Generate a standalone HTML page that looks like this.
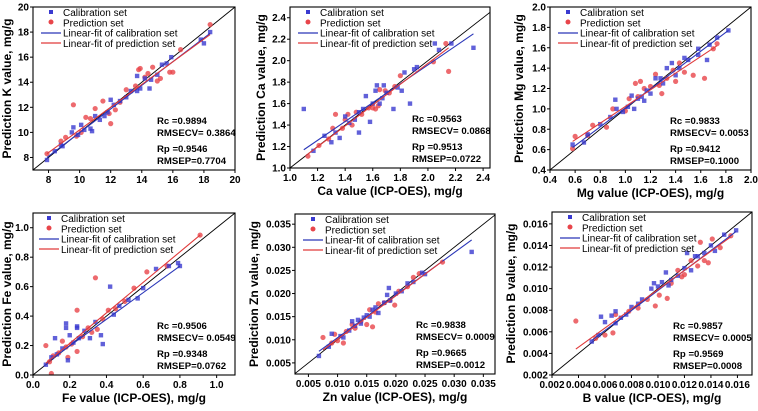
<!DOCTYPE html>
<html><head><meta charset="utf-8"><style>
body{margin:0;background:#fff;}
svg{display:block;font-family:"Liberation Sans",sans-serif;}
</style></head><body>
<svg id="fig" width="758" height="411" viewBox="0 0 758 411"></svg>
<script>
const kCal=[[7.9,7.8],[8.4,8.5],[8.8,9.0],[8.9,8.9],[9.5,10.0],[9.6,10.4],[9.9,9.8],[10.1,10.6],[10.3,10.2],[10.7,10.3],[10.8,10.1],[11.0,11.3],[11.3,11.0],[11.6,11.3],[11.8,11.6],[12.0,12.6],[12.2,12.2],[12.6,12.5],[13.0,12.8],[13.3,13.3],[13.7,13.3],[13.7,14.5],[13.9,13.5],[14.2,14.3],[14.5,13.5],[14.6,14.2],[15.0,14.6],[15.3,15.4],[15.6,15.5],[15.9,16.0],[17.8,17.4],[18.0,17.1],[18.4,18.0]];
const kPred=[[7.9,8.3],[8.8,9.3],[9.1,9.6],[9.6,12.2],[9.8,9.7],[10.1,10.0],[10.4,11.2],[10.7,11.1],[11.0,11.9],[11.5,12.5],[11.9,11.5],[12.0,10.7],[12.3,11.8],[12.6,12.4],[13.0,13.4],[13.6,13.7],[13.8,15.0],[13.9,15.1],[14.2,14.4],[14.4,14.7],[14.7,15.2],[15.0,14.1],[15.2,14.3],[15.8,14.8],[16.0,14.8],[16.5,16.6],[18.4,18.6]];
const kFit=[[[7.9,8.0],[18.4,17.9]],[[7.9,8.3],[18.4,17.8]]];
const kTicks=[8,10,12,14,16,18,20];
const caCal=[[1.10,1.55],[1.17,1.16],[1.25,1.30],[1.30,1.24],[1.33,1.33],[1.36,1.28],[1.40,1.48],[1.43,1.42],[1.47,1.45],[1.50,1.33],[1.50,1.52],[1.53,1.55],[1.55,1.67],[1.58,1.43],[1.60,1.60],[1.62,1.72],[1.63,1.77],[1.65,1.60],[1.67,1.65],[1.68,1.77],[1.70,1.70],[1.75,1.55],[1.78,1.75],[1.81,1.72],[1.83,1.89],[1.87,1.60],[1.90,1.92],[1.92,1.94],[2.05,2.16],[2.08,2.10],[2.17,2.16],[2.33,2.12]];
const caPred=[[1.13,1.11],[1.21,1.21],[1.28,1.27],[1.31,1.37],[1.33,1.50],[1.38,1.37],[1.40,1.45],[1.42,1.50],[1.45,1.40],[1.48,1.52],[1.52,1.50],[1.57,1.56],[1.60,1.56],[1.62,1.55],[1.64,1.58],[1.65,1.73],[1.69,1.72],[1.72,1.70],[1.76,1.76],[1.80,1.86],[2.04,1.99],[2.13,2.16],[2.15,1.90]];
const caFit=[[[1.10,1.17],[2.33,2.25]],[[1.13,1.13],[2.15,2.12]]];
const caTicks=[1.0,1.2,1.4,1.6,1.8,2.0,2.2,2.4];
const mgCal=[[0.58,0.65],[0.67,0.67],[0.70,0.75],[0.80,0.85],[0.88,0.92],[0.92,1.09],[0.93,1.00],[0.98,0.97],[1.02,1.02],[1.05,1.13],[1.07,1.00],[1.10,1.10],[1.13,1.12],[1.15,1.08],[1.17,1.18],[1.20,1.15],[1.24,1.30],[1.28,1.30],[1.30,1.25],[1.33,1.40],[1.37,1.45],[1.40,1.33],[1.43,1.40],[1.47,1.50],[1.50,1.48],[1.58,1.59],[1.58,1.53],[1.65,1.48],[1.67,1.63],[1.73,1.70],[1.82,1.77]];
const mgPred=[[0.58,0.61],[0.60,0.73],[0.70,0.74],[0.74,0.84],[0.85,0.82],[0.90,1.00],[1.00,0.98],[1.03,1.10],[1.08,1.25],[1.10,1.12],[1.12,1.27],[1.15,1.20],[1.20,1.22],[1.24,1.34],[1.27,1.23],[1.29,1.15],[1.33,1.30],[1.38,1.38],[1.40,1.27],[1.43,1.45],[1.47,1.36],[1.54,1.33],[1.63,1.30],[1.70,1.59],[1.73,1.64]];
const mgFit=[[[0.58,0.62],[1.82,1.77]],[[0.58,0.68],[1.73,1.62]]];
const mgTicks=[0.4,0.6,0.8,1.0,1.2,1.4,1.6,1.8,2.0];
const feCal=[[0.07,0.07],[0.10,0.12],[0.12,0.25],[0.13,0.14],[0.16,0.18],[0.18,0.35],[0.18,0.32],[0.19,0.10],[0.20,0.27],[0.22,0.22],[0.24,0.33],[0.24,0.32],[0.25,0.25],[0.28,0.30],[0.31,0.25],[0.34,0.36],[0.37,0.27],[0.38,0.21],[0.42,0.60],[0.44,0.41],[0.47,0.47],[0.52,0.51],[0.57,0.52],[0.60,0.59],[0.67,0.72],[0.74,0.74],[0.79,0.76],[0.80,0.74]];
const fePred=[[0.07,0.20],[0.09,0.09],[0.10,0.01],[0.11,0.13],[0.14,0.15],[0.16,0.23],[0.18,0.19],[0.19,0.12],[0.21,0.21],[0.24,0.44],[0.24,0.16],[0.27,0.26],[0.30,0.32],[0.32,0.29],[0.34,0.66],[0.35,0.31],[0.38,0.38],[0.41,0.44],[0.45,0.45],[0.50,0.50],[0.55,0.59],[0.62,0.70],[0.73,0.74],[0.91,0.95]];
const feFit=[[[0.07,0.08],[0.80,0.74]],[[0.07,0.08],[0.91,0.95]]];
const feTicks=[0.0,0.2,0.4,0.6,0.8,1.0];
const znCal=[[0.0068,0.0065],[0.0085,0.0085],[0.009,0.0113],[0.0105,0.0108],[0.011,0.0105],[0.012,0.0120],[0.0125,0.0140],[0.013,0.0130],[0.0135,0.0143],[0.014,0.0135],[0.0145,0.0148],[0.015,0.0153],[0.0155,0.0150],[0.016,0.0165],[0.0165,0.0170],[0.017,0.0158],[0.018,0.0180],[0.0185,0.0197],[0.0188,0.0212],[0.019,0.0185],[0.020,0.0200],[0.021,0.0205],[0.022,0.0222],[0.023,0.0225],[0.0245,0.0245],[0.025,0.0242],[0.033,0.029]];
const znPred=[[0.0075,0.0105],[0.009,0.0093],[0.0095,0.0112],[0.010,0.0098],[0.011,0.0093],[0.0115,0.0118],[0.0125,0.0133],[0.013,0.0125],[0.014,0.0140],[0.015,0.0133],[0.0155,0.0165],[0.016,0.0128],[0.0165,0.0160],[0.017,0.0178],[0.018,0.0180],[0.019,0.0185],[0.0198,0.0175],[0.0205,0.0205],[0.022,0.0215],[0.023,0.0235],[0.024,0.0243],[0.028,0.0268]];
const znFit=[[[0.0068,0.0075],[0.033,0.0316]],[[0.0075,0.0078],[0.028,0.0270]]];
const znTicks=[0.005,0.010,0.015,0.020,0.025,0.030,0.035];
const bCal=[[0.005,0.0051],[0.0055,0.0057],[0.0057,0.0074],[0.006,0.0069],[0.0065,0.0075],[0.0068,0.0079],[0.0068,0.0068],[0.0072,0.0073],[0.0076,0.0076],[0.008,0.0083],[0.0085,0.0086],[0.0088,0.0090],[0.0095,0.0100],[0.0097,0.0105],[0.010,0.0102],[0.0103,0.0106],[0.0106,0.0115],[0.0108,0.0103],[0.011,0.0108],[0.0115,0.0112],[0.012,0.0119],[0.0122,0.0133],[0.0125,0.0117],[0.0128,0.0130],[0.013,0.0130],[0.0135,0.0133],[0.014,0.0140],[0.0143,0.0135],[0.015,0.0150],[0.0159,0.0154]];
const bPred=[[0.0038,0.0070],[0.0053,0.0054],[0.006,0.0057],[0.0066,0.0059],[0.0068,0.0076],[0.0078,0.0079],[0.0085,0.0082],[0.0092,0.0090],[0.0098,0.0084],[0.0101,0.0094],[0.0107,0.0091],[0.011,0.0105],[0.0115,0.0117],[0.0118,0.0111],[0.012,0.0113],[0.0125,0.0126],[0.013,0.0121],[0.0132,0.0143],[0.0135,0.0126],[0.0138,0.0124],[0.0141,0.0146],[0.0147,0.0138],[0.0155,0.0149]];
const bFit=[[[0.005,0.0052],[0.0159,0.0153]],[[0.0038,0.0044],[0.0155,0.0148]]];
const bTicks=[0.002,0.004,0.006,0.008,0.010,0.012,0.014,0.016];

const NS="http://www.w3.org/2000/svg";
const svg=document.getElementById('fig');
function mk(tag,attrs,parent,text){const e=document.createElementNS(NS,tag);for(const k in attrs)e.setAttribute(k,attrs[k]);if(text!==undefined)e.textContent=text;(parent||svg).appendChild(e);return e;}

function panel(p){
  const g=mk('g',{});
  
  
  const sx=v=>p.x0+(v-p.xr[0])/(p.xr[1]-p.xr[0])*(p.x1-p.x0);
  const sy=v=>p.y1-(v-p.yr[0])/(p.yr[1]-p.yr[0])*(p.y1-p.y0);
  const cid='clip-'+p.id;
  const cp=mk('clipPath',{id:cid},g);mk('rect',{x:p.x0,y:p.y0,width:p.x1-p.x0,height:p.y1-p.y0},cp);
  const pg=mk('g',{'clip-path':'url(#'+cid+')'},g);
  const lo=Math.max(p.xr[0],p.yr[0]),hi=Math.min(p.xr[1],p.yr[1]);
  const d=mk('line',{x1:sx(lo),y1:sy(lo),x2:sx(hi),y2:sy(hi),stroke:'#000','stroke-width':0.9},pg);
  
  
  p.pred.forEach(pt=>{const c=mk('circle',{cx:sx(pt[0]),cy:sy(pt[1]),r:2.6,fill:'#e8454a','fill-opacity':0.8},pg);
    
    });
  p.cal.forEach(pt=>{const r=mk('rect',{x:sx(pt[0])-2.2,y:sy(pt[1])-2.2,width:4.4,height:4.4,fill:'#3a3ad0','fill-opacity':0.8},pg);
    
    });
  const cols=['#2a36b8','#e03a3a'];
  p.fit.forEach((f,i)=>{const l=mk('line',{x1:sx(f[0][0]),y1:sy(f[0][1]),x2:sx(f[1][0]),y2:sy(f[1][1]),stroke:cols[i],'stroke-width':1.1},pg);
    
    });
  mk('rect',{x:p.x0,y:p.y0,width:p.x1-p.x0,height:p.y1-p.y0,fill:'none',stroke:'#000','stroke-width':1.1},g);
  p.ticks.forEach(t=>{
    const X=sx(t);
    if(X>=p.x0-0.5&&X<=p.x1+0.5){mk('line',{x1:X,y1:p.y1,x2:X,y2:p.y1+3,stroke:'#000'},g);
      const tx=mk('text',{x:X,y:p.y1+13,'font-size':10,'font-weight':'bold','text-anchor':'middle'},g,p.fmt(t));
      
      }
    const Y=sy(t);
    if(Y>=p.y0-0.5&&Y<=p.y1+0.5){mk('line',{x1:p.x0-3,y1:Y,x2:p.x0,y2:Y,stroke:'#000'},g);
      const ty=mk('text',{x:p.x0-4,y:Y+3.5,'font-size':10,'font-weight':'bold','text-anchor':'end'},g,p.fmt(t));
      
      }
  });
  if(p.xl){
  const xt=mk('text',{x:(p.x0+p.x1)/2,y:p.y1+27,'font-size':12,'font-weight':'bold','text-anchor':'middle'},g,p.xl);
  
  
  }
  const yc=(p.y0+p.y1)/2,yx=p.x0-p.yoff;
  const yt=mk('text',{x:yx,y:yc,'font-size':12,'font-weight':'bold','text-anchor':'middle',transform:`rotate(-90 ${yx} ${yc})`},g,p.yl);
  
  
  const lx=p.x0+p.lx, ly=p.y0+5;
  const lg=mk('g',{},g);
  
  
  mk('rect',{x:lx+14,y:ly-2,width:4,height:4,fill:'#3a3ad0'},lg);
  mk('circle',{cx:lx+16,cy:ly+10,r:2.5,fill:'#e8454a'},lg);
  mk('line',{x1:lx+6,y1:ly+21,x2:lx+26,y2:ly+21,stroke:cols[0],'stroke-width':1.2},lg);
  mk('line',{x1:lx+6,y1:ly+31,x2:lx+26,y2:ly+31,stroke:cols[1],'stroke-width':1.2},lg);
  ['Calibration set','Prediction set','Linear-fit of calibration set','Linear-fit of prediction set'].forEach((s,i)=>{
    const t=mk('text',{x:lx+28,y:ly+4+i*10.3,'font-size':10},lg,s);
    
    
  });
  const st=mk('g',{'font-size':9.6,'font-weight':'bold'},g);
  
  
  const sxp=p.x0+p.sx;
  mk('text',{x:sxp,y:p.y1-46},st,'Rc =' + p.st[0]);
  mk('text',{x:sxp,y:p.y1-34},st,'RMSECV= ' + p.st[1]);
  mk('text',{x:sxp,y:p.y1-18},st,'Rp =' + p.st[2]);
  mk('text',{x:sxp,y:p.y1-6},st,'RMSEP=' + p.st[3]);
}
const f1=v=>v.toFixed(1), f0=v=>String(v), f3=v=>v.toFixed(3);
panel({id:'k',x0:33,x1:235,y0:7,y1:170,xr:[7,20],yr:[7,20],ticks:kTicks,fmt:f0,cal:kCal,pred:kPred,fit:kFit,xl:'',yl:'Prediction K value, mg/g',yoff:22,lx:2,sx:124,st:['0.9894','0.3864','0.9546','0.7704']});
panel({id:'ca',x0:290,x1:490,y0:7,y1:168,xr:[1.0,2.45],yr:[1.0,2.5],ticks:caTicks,fmt:f1,cal:caCal,pred:caPred,fit:caFit,xl:'Ca value (ICP-OES), mg/g',yl:'Prediction Ca value, mg/g',yoff:25,lx:2,sx:122,st:['0.9563','0.0868','0.9513','0.0722']});
panel({id:'mg',x0:550,x1:751,y0:7,y1:170,xr:[0.4,2.0],yr:[0.4,2.0],ticks:mgTicks,fmt:f1,cal:mgCal,pred:mgPred,fit:mgFit,xl:'Mg value (ICP-OES), mg/g',yl:'Prediction Mg value, mg/g',yoff:27,lx:2,sx:120,st:['0.9833','0.0053','0.9412','0.1000']});
panel({id:'fe',x0:33,x1:235,y0:213,y1:375,xr:[0,1.1],yr:[0,1.1],ticks:feTicks,fmt:f1,cal:feCal,pred:fePred,fit:feFit,xl:'Fe value (ICP-OES), mg/g',yl:'Prediction Fe value, mg/g',yoff:22,lx:0,sx:124,st:['0.9506','0.0549','0.9348','0.0762']});
panel({id:'zn',x0:295,x1:495,y0:214,y1:374,xr:[0.0027,0.037],yr:[0.0026,0.0372],ticks:znTicks,fmt:f3,cal:znCal,pred:znPred,fit:znFit,xl:'Zn value (ICP-OES), mg/g',yl:'Prediction Zn value, mg/g',yoff:37,lx:2,sx:121,st:['0.9838','0.0009','0.9665','0.0012']});
panel({id:'b',x0:552,x1:752,y0:212,y1:375,xr:[0.002,0.0171],yr:[0.002,0.0171],ticks:bTicks,fmt:f3,cal:bCal,pred:bPred,fit:bFit,xl:'B value (ICP-OES), mg/g',yl:'Prediction B value, mg/g',yoff:37,lx:2,sx:121,st:['0.9857','0.0005','0.9569','0.0008']});
</script>
</body></html>
